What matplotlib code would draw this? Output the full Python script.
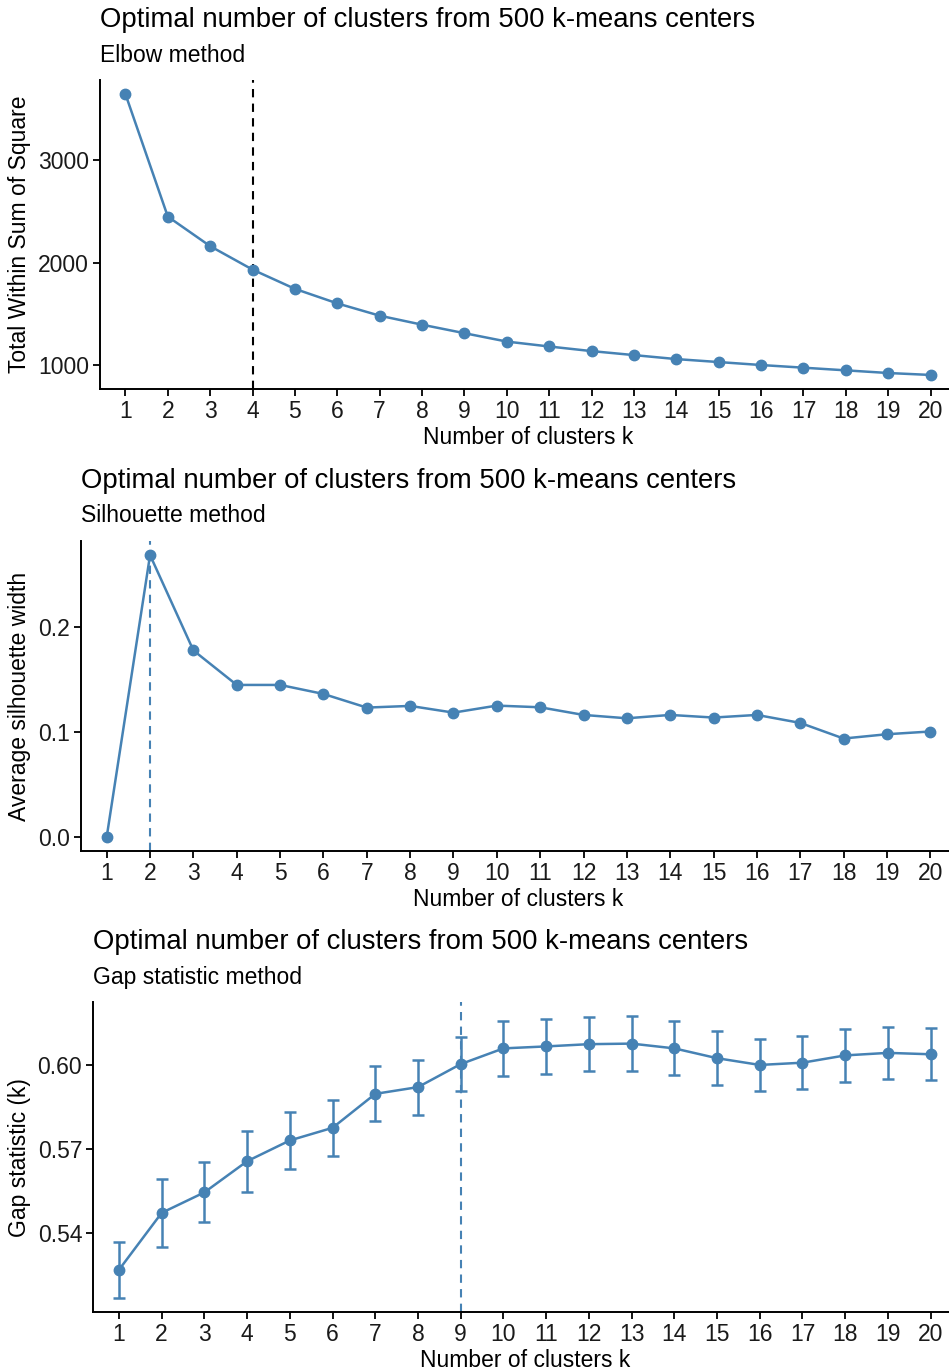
import matplotlib
matplotlib.use("Agg")
import matplotlib.pyplot as plt
import numpy as np

plt.rcParams['font.family'] = ['Liberation Sans', 'DejaVu Sans']

# data
k = list(range(1, 21))

wss = [3647, 2450, 2161, 1932, 1744, 1602, 1482, 1394, 1311, 1229,
       1181, 1136, 1097, 1058, 1029, 1000, 974, 948, 922, 903]

sil = [0.0, 0.2687, 0.1778, 0.1449, 0.1449, 0.1363, 0.1233, 0.1249, 0.1185, 0.1252,
       0.1236, 0.1163, 0.1131, 0.1163, 0.1138, 0.1163, 0.1087, 0.0938, 0.0979, 0.1005]

gap = [0.5269, 0.5472, 0.5545, 0.5656, 0.5730, 0.5775, 0.5896, 0.5920, 0.6002, 0.6058,
       0.6065, 0.6073, 0.6075, 0.6058, 0.6023, 0.5999, 0.6007, 0.6033, 0.6042, 0.6037]
gap_se = [0.0100, 0.0121, 0.0107, 0.0109, 0.0103, 0.0100, 0.0098, 0.0098, 0.0096, 0.0098,
          0.0097, 0.0097, 0.0097, 0.0096, 0.0096, 0.0094, 0.0094, 0.0093, 0.0093, 0.0093]

best_k = [4, 2, 9]
title = "Optimal number of clusters from 500 k-means centers"
subtitles = ["Elbow method", "Silhouette method", "Gap statistic method"]
ylabels = ["Total Within Sum of Square", "Average silhouette width", "Gap statistic (k)"]
yticks = [[1000, 2000, 3000], [0.0, 0.1, 0.2], [0.54, 0.57, 0.60]]
yticklabels = [["1000", "2000", "3000"], ["0.0", "0.1", "0.2"], ["0.54", "0.57", "0.60"]]
vline_colors = ["black", "steelblue", "steelblue"]

W, H = 949, 1370
fig = plt.figure(figsize=(W / 100, H / 100), dpi=100)

# axes boxes in pixels: left, right, top, bottom
boxes = [(100, 956, 80, 389), (80.7, 956.3, 541, 851), (93.3, 956.3, 1002.3, 1312)]

blue = "#4682B4"
for i, (l, r, t, b) in enumerate(boxes):
    ax = fig.add_axes([l / W, 1 - b / H, (r - l) / W, (b - t) / H])
    if i == 0:
        y = wss
        lo, hi = min(y), max(y)
    elif i == 1:
        y = sil
        lo, hi = min(y), max(y)
    else:
        y = gap
        lo = min(np.array(gap) - np.array(gap_se))
        hi = max(np.array(gap) + np.array(gap_se))
    pad = (hi - lo) * 0.05
    ax.set_ylim(lo - pad, hi + pad)
    ax.set_xlim(0.4, 20.6)

    ax.axvline(best_k[i], color=vline_colors[i], ls=(0, (4, 3)), lw=1.5, zorder=1)
    if i == 2:
        ax.errorbar(k, gap, yerr=gap_se, color=blue, lw=1.8, marker='o', ms=7.5,
                    capsize=4, capthick=1.8, elinewidth=1.8, zorder=3)
    else:
        ax.plot(k, y, color=blue, lw=1.8, marker='o', ms=7.5, zorder=3)

    ax.set_xticks(k)
    ax.set_xticklabels([str(v) for v in k])
    ax.set_yticks(yticks[i])
    ax.set_yticklabels(yticklabels[i])
    ax.tick_params(labelsize=16.5, length=5, width=1.3, color='black', pad=3,
                   labelcolor='#1a1a1a')
    for s in ['top', 'right']:
        ax.spines[s].set_visible(False)
    for s in ['left', 'bottom']:
        ax.spines[s].set_linewidth(1.4)

    ax.set_xlabel("Number of clusters k", fontsize=16.5, labelpad=2)
    ax.set_ylabel(ylabels[i], fontsize=16.5, labelpad=5)

    ax.annotate(title, xy=(0, 1), xycoords='axes fraction', xytext=(0, 60),
                textcoords='offset pixels', ha='left', va='center', fontsize=19.8)
    ax.annotate(subtitles[i], xy=(0, 1), xycoords='axes fraction', xytext=(0, 25),
                textcoords='offset pixels', ha='left', va='center', fontsize=16.5)

fig.savefig("out.png", dpi=100)
